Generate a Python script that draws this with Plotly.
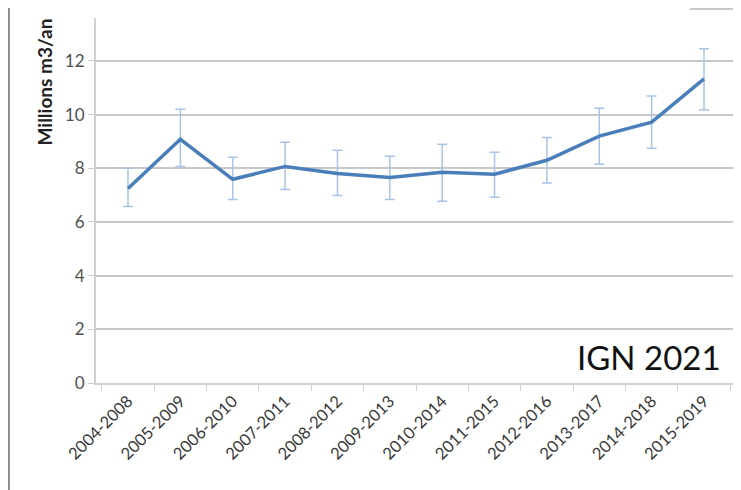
import plotly.graph_objects as go

periods = ["2004-2008", "2005-2009", "2006-2010", "2007-2011", "2008-2012", "2009-2013",
           "2010-2014", "2011-2015", "2012-2016", "2013-2017", "2014-2018", "2015-2019"]
volume = [7.25, 9.08, 7.59, 8.07, 7.81, 7.66, 7.85, 7.78, 8.30, 9.20, 9.72, 11.33]
upper = [8.00, 10.20, 8.41, 8.97, 8.67, 8.45, 8.90, 8.60, 9.15, 10.24, 10.69, 12.45]
lower = [6.58, 8.07, 6.84, 7.21, 6.99, 6.84, 6.77, 6.92, 7.45, 8.15, 8.75, 10.17]

err_plus = [u - v for u, v in zip(upper, volume)]
err_minus = [v - l for v, l in zip(volume, lower)]

fig = go.Figure()

fig.add_trace(
    go.Scatter(
        x=periods,
        y=volume,
        mode="lines",
        line=dict(color="#4a7ebb", width=3.5),
        error_y=dict(
            type="data",
            array=err_plus,
            arrayminus=err_minus,
            color="#a9c4e6",
            thickness=1.5,
            width=5,
        ),
        showlegend=False,
    )
)

# source label
fig.add_annotation(
    text="IGN 2021", xref="paper", yref="paper", x=0.98, y=0.012,
    xanchor="right", yanchor="bottom", showarrow=False,
    font=dict(family="Lato", size=33, color="#111111"),
)

# y axis title (cropped at top in the original)
fig.add_annotation(
    text="<b>Millions m3/an</b>", xref="paper", yref="paper", x=-0.08, y=0.646,
    xanchor="center", yanchor="bottom", textangle=-90, showarrow=False,
    font=dict(family="Lato", size=19, color="#222222"),
)

# frame remnants
fig.add_shape(type="line", xref="paper", yref="paper", x0=-0.136, x1=-0.136,
              y0=-0.35, y1=1.1, line=dict(color="#8c8c8c", width=2))
fig.add_shape(type="line", xref="paper", yref="paper", x0=0.928, x1=1.0,
              y0=1.025, y1=1.025, line=dict(color="#c8c8c8", width=2))

# page body adds an 8px offset, margins account for it
fig.update_layout(
    width=741,
    height=490,
    margin=dict(l=88, r=13, t=10, b=115),
    paper_bgcolor="white",
    plot_bgcolor="white",
    font=dict(family="Lato", color="#595959"),
    xaxis=dict(
        type="category",
        automargin=False,
        tickangle=-45,
        tickson="boundaries",
        ticks="outside",
        ticklen=6,
        tickcolor="#d0d0d0",
        showgrid=False,
        showline=True,
        linecolor="#d0d0d0",
        linewidth=2,
        tickfont=dict(size=16.5, color="#383838"),
    ),
    yaxis=dict(
        range=[0, 13.6],
        automargin=False,
        tickvals=[0, 2, 4, 6, 8, 10, 12],
        ticks="outside",
        ticklen=6,
        tickcolor="#d0d0d0",
        gridcolor="#c8c8c8",
        gridwidth=1.5,
        zeroline=False,
        showline=True,
        linecolor="#d0d0d0",
        linewidth=2,
        tickfont=dict(size=17, color="#505050"),
    ),
)

fig.write_html("out.html")
